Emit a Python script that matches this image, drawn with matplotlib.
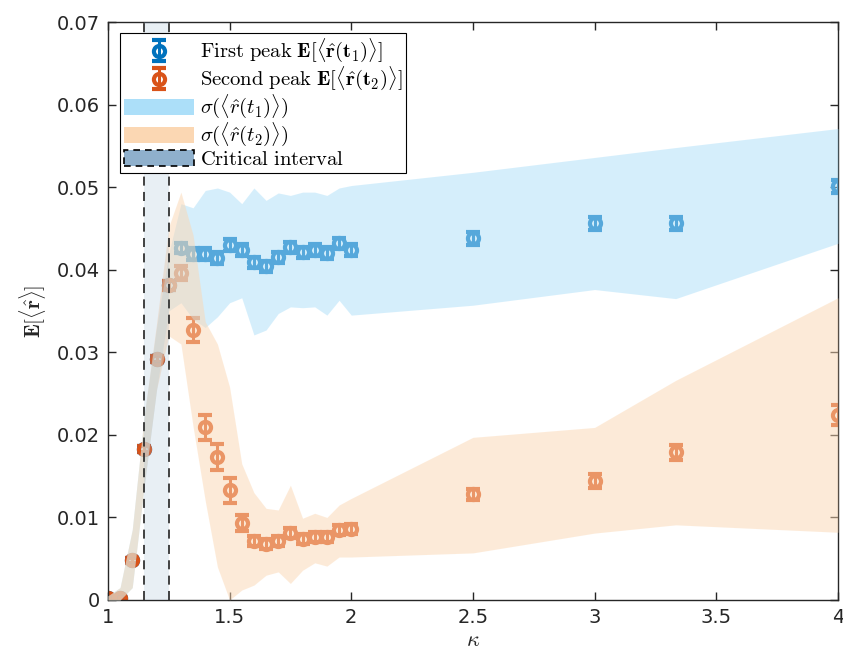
import matplotlib
matplotlib.use('Agg')
import matplotlib.pyplot as plt
from matplotlib.patches import Patch

plt.rcParams['mathtext.fontset'] = 'cm'

# kappa values
kappa = [1.0, 1.05, 1.1, 1.15, 1.2, 1.25, 1.3, 1.35, 1.4, 1.45, 1.5, 1.55, 1.6,
         1.65, 1.7, 1.75, 1.8, 1.85, 1.9, 1.95, 2.0, 2.5, 3.0, 10 / 3, 4.0]

# first peak mean and error
peak1 = [0.0002, 0.0002, 0.0048, 0.0183, 0.0292, 0.0381, 0.0426, 0.0419, 0.0419,
         0.0414, 0.0430, 0.0424, 0.0409, 0.0404, 0.0415, 0.0427, 0.0421, 0.0424,
         0.0420, 0.0432, 0.0424, 0.0438, 0.0456, 0.0456, 0.0501]
err1 = [0.0002, 0.0002, 0.0003, 0.0004, 0.0004, 0.0005, 0.0006, 0.0007, 0.0007,
        0.0007, 0.0007, 0.0007, 0.0007, 0.0007, 0.0007, 0.0007, 0.0007, 0.0007,
        0.0007, 0.0007, 0.0007, 0.0008, 0.0008, 0.0008, 0.0008]

# second peak mean and error
peak2 = [0.0002, 0.0002, 0.0048, 0.0183, 0.0292, 0.0381, 0.0396, 0.0327, 0.0209,
         0.0173, 0.0133, 0.0093, 0.0071, 0.0068, 0.0071, 0.0081, 0.0074, 0.0076,
         0.0076, 0.0085, 0.0086, 0.0128, 0.0144, 0.0179, 0.0224]
err2 = [0.0002, 0.0002, 0.0003, 0.0004, 0.0004, 0.0005, 0.0008, 0.0015, 0.0015,
        0.0016, 0.0015, 0.0010, 0.0006, 0.0006, 0.0006, 0.0006, 0.0006, 0.0006,
        0.0006, 0.0006, 0.0006, 0.0007, 0.0008, 0.0009, 0.0012]

# sigma bands (lower / upper)
sig1_lo = [0.0, 0.0, 0.0015, 0.0140, 0.0255, 0.0350, 0.0360, 0.0340, 0.0330, 0.0343,
           0.0360, 0.0366, 0.0321, 0.0327, 0.0347, 0.0355, 0.0354, 0.0355, 0.0345,
           0.0363, 0.0345, 0.0357, 0.0376, 0.0365, 0.0432]
sig1_hi = [0.0005, 0.0015, 0.0085, 0.0225, 0.0330, 0.0420, 0.0480, 0.0475, 0.0496,
           0.0499, 0.0494, 0.0480, 0.0499, 0.0484, 0.0493, 0.0490, 0.0494, 0.0494,
           0.0490, 0.0499, 0.0502, 0.0518, 0.0536, 0.0548, 0.0571]
sig2_lo = [0.0, 0.0, 0.0015, 0.0140, 0.0255, 0.0320, 0.0310, 0.0210, 0.0120, 0.0040,
           0.0000, 0.0012, 0.0018, 0.0030, 0.0034, 0.0020, 0.0036, 0.0045, 0.0041,
           0.0052, 0.0052, 0.0057, 0.0081, 0.0091, 0.0082]
sig2_hi = [0.0005, 0.0015, 0.0085, 0.0225, 0.0335, 0.0452, 0.0494, 0.0442, 0.0337,
           0.0310, 0.0258, 0.0165, 0.0130, 0.0111, 0.0109, 0.0139, 0.0099, 0.0105,
           0.0100, 0.0115, 0.0123, 0.0197, 0.0209, 0.0266, 0.0366]

crit_lo, crit_hi = 1.15, 1.25

x_ticks = [1, 1.5, 2, 2.5, 3, 3.5, 4]
x_labels = ['1', '1.5', '2', '2.5', '3', '3.5', '4']
y_ticks = [0, 0.01, 0.02, 0.03, 0.04, 0.05, 0.06, 0.07]
y_labels = ['0', '0.01', '0.02', '0.03', '0.04', '0.05', '0.06', '0.07']

blue = '#0072BD'
orange = '#D95319'
band1 = (172 / 255, 223 / 255, 249 / 255)
band2 = (251 / 255, 215 / 255, 179 / 255)
crit_col = (143 / 255, 176 / 255, 204 / 255)

fig = plt.figure(figsize=(8.43, 6.62), dpi=100)
ax = fig.add_axes([0.128, 0.0937, 0.866, 0.873])

eb1 = ax.errorbar(kappa, peak1, yerr=err1, fmt='o', color=blue, mfc='none', ms=8,
                  mew=3, elinewidth=2.2, capsize=5, capthick=2.5, zorder=2)
eb2 = ax.errorbar(kappa, peak2, yerr=err2, fmt='o', color=orange, mfc='none', ms=8,
                  mew=3, elinewidth=2.2, capsize=5, capthick=2.5, zorder=2)

# bands drawn over the markers, semi-transparent
ax.fill_between(kappa, sig1_lo, sig1_hi, color=band1, alpha=0.5, lw=0, zorder=3)
ax.fill_between(kappa, sig2_lo, sig2_hi, color=band2, alpha=0.5, lw=0, zorder=3)

ax.axvspan(crit_lo, crit_hi, color=crit_col, alpha=0.2, lw=0, zorder=4)
ax.axvline(crit_lo, color='#333333', ls=(0, (5, 3.5)), lw=1.3, zorder=5)
ax.axvline(crit_hi, color='#333333', ls=(0, (5, 3.5)), lw=1.3, zorder=5)

ax.set_xlim(1, 4)
ax.set_ylim(0, 0.07)
ax.set_xticks(x_ticks)
ax.set_xticklabels(x_labels)
ax.set_yticks(y_ticks)
ax.set_yticklabels(y_labels)
ax.tick_params(direction='in', length=6, width=1, colors='#262626', labelsize=14,
               top=True, right=True, pad=6)
for s in ax.spines.values():
    s.set_color('#262626')
    s.set_linewidth(1)

ax.set_xlabel(r'$\kappa$', fontsize=16, color='#262626', labelpad=2)
ax.set_ylabel(r'$\mathbf{E}[\langle\hat{\mathbf{r}}\rangle]$', fontsize=15,
              color='#262626', labelpad=6)

handles = [eb1, eb2,
           Patch(facecolor=band1, edgecolor='none'),
           Patch(facecolor=band2, edgecolor='none'),
           Patch(facecolor=crit_col, edgecolor='black', linestyle=(0, (4, 3)), lw=1.2)]
labels = [r'$\mathrm{First\ peak}\ \mathbf{E}[\langle\hat{\mathbf{r}}(\mathbf{t_1})\rangle]$',
          r'$\mathrm{Second\ peak}\ \mathbf{E}[\langle\hat{\mathbf{r}}(\mathbf{t_2})\rangle]$',
          r'$\sigma(\langle\hat{r}(t_1)\rangle)$',
          r'$\sigma(\langle\hat{r}(t_2)\rangle)$',
          r'$\mathrm{Critical\ interval}$']
leg = ax.legend(handles, labels, loc='upper left', bbox_to_anchor=(0.016, 0.981),
                borderaxespad=0, fontsize=14.8, handlelength=3.4, handleheight=0.8,
                labelspacing=0.0, handletextpad=0.3, borderpad=0.2,
                fancybox=False, framealpha=1, edgecolor='black')
leg.get_frame().set_linewidth(0.8)
leg.set_zorder(10)

fig.savefig('out.png', dpi=100)
